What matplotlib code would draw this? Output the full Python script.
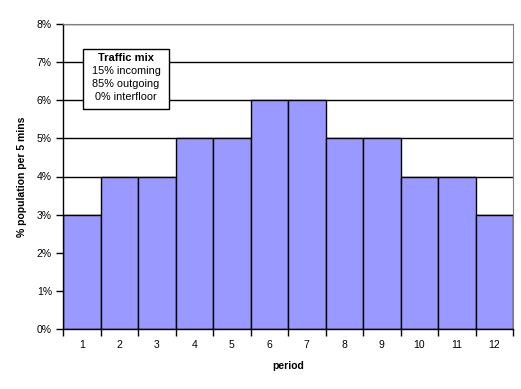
import matplotlib
matplotlib.use("Agg")
import matplotlib.pyplot as plt
from matplotlib.ticker import FixedLocator, NullFormatter, PercentFormatter

plt.rcParams['font.family'] = ['Liberation Sans', 'DejaVu Sans']

# data
periods = [1, 2, 3, 4, 5, 6, 7, 8, 9, 10, 11, 12]
share = [3, 4, 4, 5, 5, 6, 6, 5, 5, 4, 4, 3]  # % population per 5 mins
mix_title = "Traffic mix"
mix_lines = ["15% incoming", "85% outgoing", "0% interfloor"]

fig = plt.figure(figsize=(5.21, 3.89), dpi=100)
ax = fig.add_axes([63 / 521, 60 / 389, 450 / 521, 305 / 389])

ax.set_axisbelow(True)
ax.yaxis.grid(True, color='black', linewidth=1)
ax.bar(periods, share, width=1.0, color='#9999FF', edgecolor='black', linewidth=1)

ax.set_xlim(0.5, 12.5)
ax.set_ylim(0, 8)
ax.set_yticks(range(0, 9))
ax.yaxis.set_major_formatter(PercentFormatter(decimals=0))

# category ticks between bars, labels centred
ax.xaxis.set_major_locator(FixedLocator([p - 0.5 for p in periods] + [12.5]))
ax.xaxis.set_major_formatter(NullFormatter())
ax.xaxis.set_minor_locator(FixedLocator(periods))
ax.set_xticklabels([str(p) for p in periods], minor=True)
ax.tick_params(axis='x', which='minor', length=0, pad=8, labelsize=7.5)
ax.tick_params(axis='x', which='major', length=5, width=1, direction='out')
ax.tick_params(axis='y', length=5, width=1, direction='out', labelsize=7.5, pad=3)

for side in ['top', 'right']:
    ax.spines[side].set_color('#808080')
for side in ['left', 'bottom']:
    ax.spines[side].set_color('black')
    ax.spines[side].set_linewidth(1)

ax.set_xlabel("period", fontsize=7.5, fontweight='bold', labelpad=8)
ax.set_ylabel("% population per 5 mins", fontsize=7.5, fontweight='bold', labelpad=7)

# text box
fig.patches.append(plt.Rectangle((83 / 521, 1 - 109 / 389), 86 / 521, 60 / 389,
                                 transform=fig.transFigure, facecolor='white',
                                 edgecolor='black', linewidth=1, zorder=5))
cx = 126 / 521
fig.text(cx, 1 - 58 / 389, mix_title, ha='center', va='center',
         fontsize=8, fontweight='bold', zorder=6)
for i, line in enumerate(mix_lines):
    fig.text(cx, 1 - (71 + i * 13) / 389, line, ha='center', va='center',
             fontsize=7.8, zorder=6)

fig.savefig("out.png", dpi=100)
